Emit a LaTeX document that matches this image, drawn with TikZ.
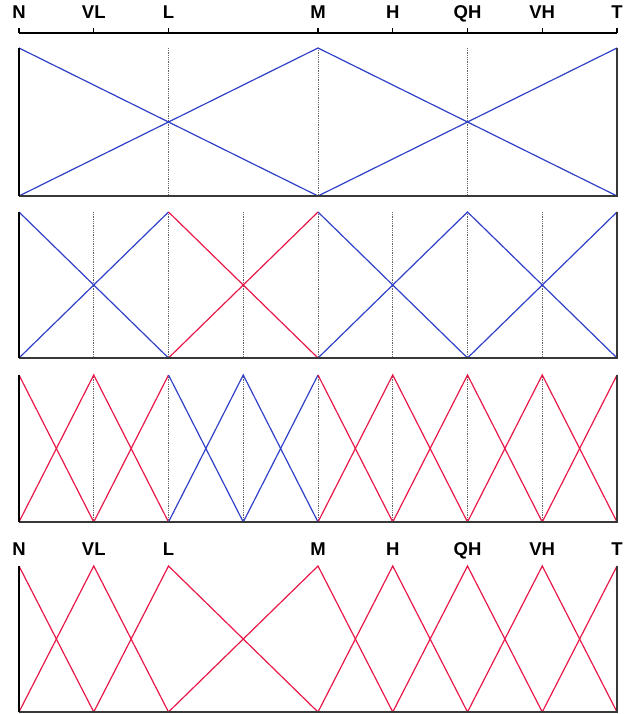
\documentclass[tikz,border=0pt]{standalone}
\usepackage{fontspec}
\setmainfont{Liberation Sans}
\definecolor{mfblue}{RGB}{48,64,200}
\definecolor{mfred}{RGB}{232,24,72}
\begin{document}
\begin{tikzpicture}[x=1pt,y=-1pt,
  lbl/.style={font=\bfseries\fontsize{18.5}{18.5}\selectfont, inner sep=0pt, anchor=base},
  frame/.style={line width=1.7pt, draw=black!78},
  axis/.style={line width=1.3pt, draw=black},
  guide/.style={densely dotted, line width=0.8pt, draw=black!60},
  mfb/.style={draw=mfblue, line width=1.2pt, line join=miter},
  mfr/.style={draw=mfred, line width=1.2pt, line join=miter},
]
\useasboundingbox (0,0) rectangle (629,714);
% named points of the four panels
\foreach \i in {0,...,8}{
  \coordinate (A\i) at ({19+74.75*\i},48);  \coordinate (a\i) at ({19+74.75*\i},196);
  \coordinate (B\i) at ({19+74.75*\i},212); \coordinate (b\i) at ({19+74.75*\i},358);
  \coordinate (C\i) at ({19+74.75*\i},375); \coordinate (c\i) at ({19+74.75*\i},522);
  \coordinate (D\i) at ({19+74.75*\i},566); \coordinate (d\i) at ({19+74.75*\i},712);
  \coordinate (t\i) at ({19+74.75*\i},28);  \coordinate (s\i) at ({19+74.75*\i},33);
}
% top axis and labels
\draw[axis] (s0) -- (s8);
\foreach \i/\t in {0/N,1/VL,2/L,4/M,5/H,6/QH,7/VH,8/T}{
  \node[lbl] (top\i) at ({19+74.75*\i},18.5) {\t};
  \node[lbl] (bot\i) at ({19+74.75*\i},555) {\t};
  \draw[axis] (t\i) -- (s\i);
}
% guide lines
\foreach \i in {2,4,6}{ \draw[guide] (A\i) -- (a\i); }
\foreach \i in {1,...,7}{ \draw[guide] (B\i) -- (b\i); \draw[guide] (C\i) -- (c\i); }
% panel 1
\draw[mfb] (A0) -- (a4);
\draw[mfb] (a0) -- (A4) -- (a8);
\draw[mfb] (a4) -- (A8);
% panel 2
\draw[mfb] (B0) -- (b2);
\draw[mfb] (b0) -- (B2);
\draw[mfr] (B2) -- (b4);
\draw[mfr] (b2) -- (B4);
\draw[mfb] (B4) -- (b6);
\draw[mfb] (b4) -- (B6) -- (b8);
\draw[mfb] (b6) -- (B8);
% panel 3
\draw[mfr] (C0) -- (c1);
\draw[mfr] (c0) -- (C1) -- (c2);
\draw[mfr] (c1) -- (C2);
\draw[mfb] (C2) -- (c3);
\draw[mfb] (c2) -- (C3) -- (c4);
\draw[mfb] (c3) -- (C4);
\draw[mfr] (C4) -- (c5);
\draw[mfr] (c4) -- (C5) -- (c6);
\draw[mfr] (c5) -- (C6) -- (c7);
\draw[mfr] (c6) -- (C7) -- (c8);
\draw[mfr] (c7) -- (C8);
% panel 4
\draw[mfr] (D0) -- (d1);
\draw[mfr] (d0) -- (D1) -- (d2);
\draw[mfr] (d1) -- (D2) -- (d4);
\draw[mfr] (d2) -- (D4) -- (d5);
\draw[mfr] (d4) -- (D5) -- (d6);
\draw[mfr] (d5) -- (D6) -- (d7);
\draw[mfr] (d6) -- (D7) -- (d8);
\draw[mfr] (d7) -- (D8);
% frames
\foreach \P/\p in {A/a,B/b,C/c,D/d}{
  \draw[frame] (\P8) -- (\p8) -- (\p0);
  \draw[frame, draw=black] (\p0) -- (\P0);
}
\end{tikzpicture}
\end{document}
